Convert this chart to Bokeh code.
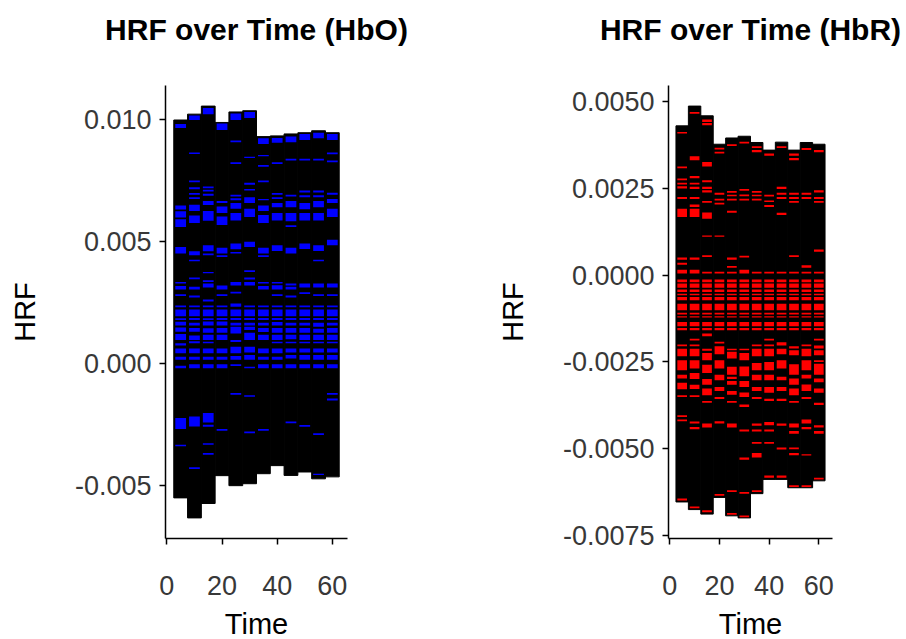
from bokeh.plotting import figure
from bokeh.layouts import row
from bokeh.models import Range1d, FixedTicker, NumeralTickFormatter, Title
from bokeh.embed import file_html
from bokeh.resources import INLINE

# ---------------- data ----------------
TIME = [5, 10, 15, 20, 25, 30, 35, 40, 45, 50, 55, 60]
X_TICKS = [0, 20, 40, 60]
UNIT = 1e-4   # all HRF values below are given in units of 1e-4

HBO_TOP = [99.6, 102.0, 105.3, 98.6, 102.9, 103.4, 92.8, 93.1, 93.9, 94.4, 95.2, 94.4]
HBO_BOTTOM = [-55.1, -63.3, -57.4, -46.0, -50.1, -49.3, -45.2, -41.9, -45.9, -44.5, -47.3, -46.5]
HBO_Y_TICKS = [-0.005, 0.0, 0.005, 0.010]

# visible (coloured) stacked segments per time bin: (upper, lower)
HBO_BANDS = [
    [(98.0, 96.3), (64.6, 63.0), (62.2, 59.7), (59.0, 55.8), (47.6, 44.9), (33.3, 32.7), (31.6, 30.2),
     (28.3, 27.6), (23.7, 22.9), (22.0, 19.3), (18.4, 17.7), (17.0, 15.5), (14.7, 12.9), (12.0, 9.5),
     (8.2, 7.3), (6.1, 4.1), (2.7, 1.4), (-1.0, -2.0), (-22.4, -26.9), (-33.3, -34.0)],
    [(101.4, 99.6), (86.3, 85.7), (74.8, 74.1), (72.1, 71.3), (69.7, 69.0), (68.0, 67.3), (64.9, 62.3),
     (60.5, 57.4), (45.9, 44.2), (42.4, 41.8), (35.1, 34.4), (31.3, 30.2), (27.8, 26.9), (23.7, 22.9),
     (22.0, 19.3), (18.5, 17.7), (16.6, 15.5), (14.4, 12.9), (11.4, 9.5), (9.0, 8.2), (6.1, 4.1),
     (2.7, 1.4), (-0.4, -2.0), (-21.8, -25.9), (-42.6, -43.3)],
    [(104.5, 102.0), (72.4, 71.7), (71.0, 70.3), (69.4, 68.6), (66.4, 64.8), (62.3, 58.4), (48.3, 45.9),
     (45.0, 44.2), (37.4, 36.9), (34.0, 33.3), (32.7, 31.0), (26.1, 25.3), (23.7, 22.9), (22.0, 19.3),
     (18.4, 17.7), (17.1, 15.5), (14.3, 12.5), (11.7, 9.5), (8.8, 8.2), (6.1, 4.1), (2.7, 1.4),
     (-0.4, -2.0), (-20.4, -24.2), (-25.2, -26.0), (-32.7, -33.3), (-36.7, -37.4)],
    [(98.2, 95.5), (66.4, 65.6), (64.2, 61.5), (60.1, 56.6), (47.3, 44.9), (44.2, 43.5), (31.8, 30.2),
     (28.3, 27.6), (23.7, 22.9), (22.0, 19.3), (18.5, 17.7), (17.1, 15.5), (14.4, 12.5), (11.7, 9.5),
     (6.1, 4.1), (2.7, 1.4), (-0.4, -2.0), (-26.9, -27.6)],
    [(102.3, 99.6), (91.2, 90.5), (82.3, 81.6), (69.0, 68.3), (67.6, 66.8), (65.6, 63.3), (61.5, 58.5),
     (49.0, 46.7), (45.6, 45.0), (33.3, 31.8), (29.3, 28.6), (24.5, 23.1), (22.0, 19.3), (18.5, 17.7),
     (16.6, 15.5), (15.0, 12.2), (9.5, 8.7), (6.8, 4.1), (3.0, 1.4), (-0.4, -1.1), (-12.2, -12.9)],
    [(102.9, 100.4), (84.6, 84.0), (73.9, 73.1), (71.4, 70.7), (68.0, 65.6), (63.3, 59.9), (49.8, 47.6),
     (38.1, 37.4), (35.1, 34.3), (33.3, 31.8), (23.7, 22.9), (22.0, 19.3), (18.5, 17.7), (16.6, 15.5),
     (15.0, 13.6), (12.5, 9.5), (6.8, 4.4), (3.4, 1.4), (-1.4, -2.0), (-13.1, -13.7), (-27.9, -28.6)],
    [(92.1, 89.8), (85.3, 84.8), (81.2, 80.5), (74.8, 74.1), (67.3, 66.7), (64.6, 62.3), (60.7, 57.4),
     (47.3, 44.9), (44.2, 43.5), (33.3, 32.7), (31.6, 30.2), (23.7, 22.9), (22.0, 19.3), (18.5, 17.7),
     (16.6, 15.5), (14.4, 12.8), (11.7, 9.5), (6.1, 4.1), (2.7, 1.4), (-0.4, -2.0), (-26.9, -27.6)],
    [(92.2, 90.3), (82.3, 81.6), (69.7, 69.0), (68.0, 67.3), (65.6, 63.9), (61.5, 58.5), (48.3, 46.0),
     (33.3, 32.7), (32.0, 30.2), (28.3, 27.6), (23.7, 22.9), (22.0, 19.3), (18.5, 17.7), (16.9, 15.5),
     (14.4, 12.5), (11.7, 9.5), (8.8, 8.2), (6.1, 4.1), (2.7, 1.4), (-0.4, -2.0)],
    [(92.9, 90.5), (83.7, 83.0), (69.0, 68.3), (66.4, 63.9), (61.5, 58.2), (56.5, 55.8), (47.3, 44.9),
     (32.7, 31.8), (31.3, 30.2), (27.8, 26.9), (23.7, 22.9), (22.0, 19.3), (18.5, 17.7), (16.6, 15.5),
     (14.4, 12.5), (11.7, 9.8), (8.8, 8.2), (6.1, 4.4), (3.4, 2.0), (-0.4, -2.0), (-23.8, -24.5)],
    [(93.9, 91.4), (83.7, 83.0), (70.7, 69.9), (68.8, 68.0), (65.6, 63.1), (61.5, 58.5), (49.0, 46.8),
     (32.7, 31.0), (29.1, 28.4), (23.7, 22.9), (22.0, 19.3), (18.5, 17.7), (16.6, 15.5), (14.4, 12.5),
     (11.7, 9.5), (8.8, 8.2), (6.1, 4.4), (3.4, 1.4), (-0.4, -2.0), (-25.3, -26.0)],
    [(94.4, 92.1), (83.7, 83.0), (70.7, 69.9), (68.8, 68.0), (66.4, 63.9), (61.5, 58.5), (48.3, 46.0),
     (42.4, 41.8), (32.7, 31.0), (28.3, 27.6), (23.7, 22.9), (22.0, 19.3), (18.5, 17.7), (16.6, 15.0),
     (14.1, 12.5), (11.7, 9.5), (8.8, 8.2), (6.1, 4.4), (3.4, 1.4), (-0.4, -2.0), (-28.6, -29.4),
     (-45.2, -45.7)],
    [(93.9, 91.4), (86.3, 85.6), (83.0, 82.3), (69.8, 69.0), (67.3, 65.6), (63.3, 59.9), (50.6, 48.3),
     (32.7, 31.0), (28.3, 27.6), (23.7, 22.9), (22.0, 19.3), (18.5, 17.7), (16.6, 15.5), (14.4, 12.5),
     (11.7, 9.5), (8.8, 8.2), (6.1, 4.4), (3.4, 1.4), (-0.4, -2.0), (-12.2, -12.9), (-14.4, -15.2)],
]

HBR_TOP = [43.1, 48.8, 46.0, 37.8, 39.6, 40.1, 38.3, 36.1, 38.4, 36.1, 38.3, 37.8]
HBR_BOTTOM = [-65.4, -67.6, -68.9, -64.1, -69.4, -70.0, -63.0, -58.9, -58.9, -61.3, -61.3, -59.3]
HBR_Y_TICKS = [-0.0075, -0.005, -0.0025, 0.0, 0.0025, 0.005]

HBR_BANDS = [
    [(41.3, 40.9), (31.4, 30.9), (27.9, 27.4), (26.7, 26.2), (25.7, 25.0), (22.6, 22.0), (19.2, 16.8),
     (5.1, 4.5), (3.6, 3.0), (1.6, 0.5), (-1.2, -2.0), (-2.4, -3.6), (-4.1, -4.8), (-5.3, -5.8),
     (-6.3, -7.2), (-8.2, -10.1), (-10.8, -11.3), (-11.8, -12.2), (-13.5, -14.7), (-15.2, -15.9),
     (-20.0, -20.5), (-21.2, -23.4), (-24.5, -27.4), (-28.7, -29.8), (-31.0, -32.9), (-34.6, -35.1),
     (-40.4, -40.9), (-41.6, -42.1), (-64.4, -65.0)],
    [(47.1, 46.6), (34.3, 33.2), (28.6, 28.0), (26.7, 26.2), (25.5, 24.9), (22.6, 22.0), (20.4, 19.7),
     (19.2, 16.8), (5.1, 4.5), (1.6, 0.5), (-1.2, -2.0), (-2.4, -3.6), (-4.1, -4.8), (-5.3, -5.8),
     (-6.3, -7.2), (-8.2, -10.1), (-10.8, -11.3), (-11.8, -12.2), (-13.5, -14.7), (-15.2, -15.9),
     (-18.3, -18.8), (-20.0, -20.5), (-21.2, -23.4), (-24.5, -26.9), (-28.2, -29.9), (-31.6, -32.8),
     (-34.6, -35.1), (-42.2, -42.8), (-43.8, -44.4), (-66.7, -67.2)],
    [(44.9, 44.2), (43.9, 43.3), (32.7, 31.4), (27.4, 26.8), (25.5, 24.9), (24.5, 23.9), (21.4, 20.9),
     (18.1, 16.3), (11.5, 11.1), (5.8, 5.3), (1.0, 0.5), (-1.2, -2.0), (-2.4, -3.6), (-4.1, -4.8),
     (-5.3, -5.8), (-6.3, -7.2), (-8.2, -10.1), (-10.8, -11.3), (-11.8, -12.2), (-13.5, -14.7),
     (-15.2, -15.9), (-16.8, -17.6), (-21.2, -21.8), (-22.4, -24.5), (-25.8, -28.2), (-29.9, -31.6),
     (-32.7, -34.6), (-36.3, -36.8), (-42.8, -43.9), (-67.8, -68.4)],
    [(36.8, 36.3), (35.6, 35.1), (23.8, 23.2), (22.1, 21.6), (20.9, 20.4), (11.5, 11.1), (1.0, 0.5),
     (-1.2, -2.0), (-2.4, -3.6), (-4.1, -4.8), (-5.3, -5.8), (-6.3, -7.2), (-8.2, -10.1), (-10.8, -11.3),
     (-11.8, -12.2), (-13.5, -14.7), (-15.2, -15.9), (-19.2, -19.7), (-20.5, -22.8), (-24.5, -26.9),
     (-28.7, -30.3), (-32.2, -33.4), (-35.1, -35.7), (-42.1, -42.8), (-63.1, -63.6)],
    [(37.8, 37.3), (24.3, 23.8), (23.2, 22.8), (22.1, 21.6), (18.6, 18.0), (5.1, 4.5), (2.7, 2.2),
     (1.0, 0.5), (-1.2, -2.0), (-2.4, -3.6), (-4.1, -4.8), (-5.3, -5.8), (-6.3, -7.2), (-8.2, -10.1),
     (-10.8, -11.3), (-11.8, -12.2), (-13.5, -14.7), (-15.2, -15.9), (-21.2, -21.6), (-22.1, -24.0),
     (-26.4, -28.7), (-29.3, -29.9), (-30.5, -31.6), (-33.4, -34.5), (-36.3, -36.8), (-42.8, -43.9),
     (-62.0, -62.5), (-68.6, -69.1)],
    [(38.5, 38.0), (24.9, 24.4), (23.3, 22.8), (22.1, 21.6), (5.6, 5.1), (1.6, 0.5), (-1.2, -2.0),
     (-2.4, -3.6), (-4.1, -4.8), (-5.3, -5.8), (-6.3, -7.2), (-8.2, -10.1), (-10.8, -11.3),
     (-11.8, -12.2), (-13.5, -14.7), (-15.2, -15.9), (-21.2, -21.6), (-22.4, -24.5), (-26.3, -29.1),
     (-30.5, -32.2), (-33.8, -35.1), (-37.3, -38.0), (-44.5, -45.1), (-52.6, -53.2), (-62.5, -63.0),
     (-69.3, -69.8)],
    [(37.2, 36.7), (36.1, 35.5), (24.3, 23.8), (23.2, 22.8), (22.1, 21.6), (1.0, 0.5), (-1.2, -2.0),
     (-2.4, -3.6), (-4.1, -4.8), (-5.3, -5.8), (-6.3, -7.2), (-8.2, -10.1), (-10.8, -11.3),
     (-11.8, -12.2), (-13.5, -14.7), (-15.2, -15.9), (-20.0, -20.5), (-21.2, -23.4), (-25.3, -27.4),
     (-28.7, -30.3), (-32.2, -33.4), (-35.1, -35.7), (-42.8, -43.4), (-44.5, -45.1), (-48.1, -48.6),
     (-51.3, -52.6), (-62.0, -62.5)],
    [(35.1, 34.5), (23.2, 22.7), (21.6, 21.1), (20.3, 19.7), (1.0, 0.5), (-1.2, -2.0), (-2.4, -3.6),
     (-4.1, -4.8), (-5.3, -5.8), (-6.3, -7.2), (-8.2, -10.1), (-10.8, -11.3), (-11.8, -12.2),
     (-13.5, -14.7), (-15.2, -15.9), (-18.3, -18.8), (-20.0, -20.5), (-21.2, -23.4), (-25.0, -27.4),
     (-28.7, -30.3), (-32.2, -33.9), (-35.6, -36.3), (-42.3, -43.3), (-44.5, -45.1), (-48.1, -48.6),
     (-57.8, -58.4)],
    [(37.2, 36.7), (25.5, 24.9), (23.8, 23.2), (22.6, 22.0), (18.0, 17.4), (1.0, 0.5), (-1.2, -2.0),
     (-2.4, -3.6), (-4.1, -4.8), (-5.3, -5.8), (-6.3, -7.2), (-8.2, -10.1), (-10.8, -11.3),
     (-11.8, -12.2), (-13.5, -14.7), (-15.2, -15.9), (-19.3, -20.3), (-21.2, -22.8), (-24.5, -26.9),
     (-29.3, -30.3), (-32.2, -33.4), (-35.6, -36.3), (-42.8, -43.4), (-49.7, -50.3), (-57.8, -58.4)],
    [(35.1, 34.5), (33.8, 33.2), (23.8, 23.2), (22.6, 22.0), (21.4, 20.9), (5.8, 5.3), (1.0, 0.5),
     (-1.2, -2.0), (-2.4, -3.6), (-4.1, -4.8), (-5.3, -5.8), (-6.3, -7.2), (-8.2, -10.1), (-10.8, -11.3),
     (-11.8, -12.2), (-13.5, -14.7), (-15.2, -15.9), (-20.5, -21.1), (-21.6, -23.1), (-25.7, -28.7),
     (-29.8, -31.6), (-32.7, -34.6), (-36.3, -36.8), (-42.8, -43.9), (-44.9, -45.7), (-49.7, -50.2),
     (-51.3, -51.9), (-60.6, -61.1)],
    [(36.7, 36.1), (23.8, 23.2), (22.6, 22.0), (2.9, 2.2), (1.0, 0.5), (-1.2, -2.0), (-2.4, -3.6),
     (-4.1, -4.8), (-5.3, -5.8), (-6.3, -7.2), (-8.2, -10.1), (-10.8, -11.3), (-11.8, -12.2),
     (-13.5, -14.7), (-15.2, -15.9), (-20.0, -20.5), (-21.2, -23.4), (-24.5, -27.4), (-28.7, -29.8),
     (-31.5, -33.4), (-35.1, -35.7), (-41.6, -42.8), (-43.8, -44.4), (-51.6, -52.0), (-60.6, -61.1)],
    [(36.1, 35.5), (24.5, 23.9), (22.6, 22.0), (21.4, 20.9), (7.4, 6.8), (1.0, 0.5), (-1.2, -2.0),
     (-2.4, -3.6), (-4.1, -4.8), (-5.3, -5.8), (-6.3, -7.2), (-8.2, -10.1), (-10.8, -11.3),
     (-11.8, -12.2), (-13.5, -14.7), (-15.2, -15.9), (-18.3, -18.8), (-20.3, -21.1), (-21.6, -23.1),
     (-24.5, -25.0), (-25.5, -28.7), (-29.8, -30.9), (-32.7, -33.9), (-36.8, -37.4), (-43.3, -43.9),
     (-44.9, -45.7), (-58.4, -58.9)],
]

# ---------------- styling ----------------
FONT = "Liberation Sans"
BIN_WIDTH = 5
BAND_WIDTH = 3.9
FRAME_H = 453


def make_panel(title, top, bottom, bands, color, yticks, yfmt, border_left, frame_w, border_right):
    top_v = [t * UNIT for t in top]
    bot_v = [b * UNIT for b in bottom]
    lo, hi = min(bot_v), max(top_v)
    ypad = 0.05 * (hi - lo)
    xlo = min(TIME) - BIN_WIDTH / 2
    xhi = max(TIME) + BIN_WIDTH / 2
    xpad = 0.05 * (xhi - xlo)

    p = figure(frame_width=frame_w, frame_height=FRAME_H,
               min_border_left=border_left, min_border_right=border_right,
               min_border_top=85, min_border_bottom=101,
               x_range=Range1d(xlo - xpad, xhi + xpad),
               y_range=Range1d(lo - ypad, hi + ypad),
               output_backend="svg", toolbar_location=None, title=title)

    # empty spacer between title and plot area
    p.add_layout(Title(text=" ", text_font=FONT, text_font_size="30px", standoff=0), "above")

    p.vbar(x=TIME, top=top_v, bottom=bot_v, width=BIN_WIDTH,
           fill_color="black", line_color="black", line_width=1)

    bx, bt, bb = [], [], []
    for t, segs in zip(TIME, bands):
        for u, l in segs:
            bx.append(t)
            bt.append(u * UNIT)
            bb.append(l * UNIT)
    p.vbar(x=bx, top=bt, bottom=bb, width=BAND_WIDTH, fill_color=color, line_color=None)

    p.title.text_font = FONT
    p.title.text_font_size = "30px"
    p.title.text_font_style = "bold"
    p.title.text_color = "black"
    p.title.align = "center"
    p.title.standoff = 10

    p.xgrid.visible = False
    p.ygrid.visible = False
    p.outline_line_color = None
    p.background_fill_color = "white"
    p.border_fill_color = "white"

    p.xaxis.ticker = FixedTicker(ticks=X_TICKS)
    p.yaxis.ticker = FixedTicker(ticks=yticks)
    p.yaxis.formatter = NumeralTickFormatter(format=yfmt)
    p.xaxis.axis_label = "Time"
    p.yaxis.axis_label = "HRF"
    for ax in (p.xaxis, p.yaxis):
        ax.axis_line_color = "black"
        ax.axis_line_width = 1.5
        ax.major_tick_line_color = "black"
        ax.major_tick_line_width = 1.5
        ax.major_tick_out = 6
        ax.major_tick_in = 0
        ax.minor_tick_line_color = None
        ax.major_label_text_font = FONT
        ax.major_label_text_font_size = "27px"
        ax.major_label_text_color = "#383838"
        ax.axis_label_text_font = FONT
        ax.axis_label_text_font_size = "29px"
        ax.axis_label_text_font_style = "normal"
        ax.axis_label_text_color = "black"
    p.xaxis.major_label_standoff = 31
    p.xaxis.axis_label_standoff = 10
    p.yaxis.major_label_standoff = 8
    p.yaxis.axis_label_standoff = 31
    return p


p1 = make_panel("HRF over Time (HbO)", HBO_TOP, HBO_BOTTOM, HBO_BANDS, "#0000ff",
                HBO_Y_TICKS, "0.000", 165, 182, 106)
p2 = make_panel("HRF over Time (HbR)", HBR_TOP, HBR_BOTTOM, HBR_BANDS, "#ff0000",
                HBR_Y_TICKS, "0.0000", 215, 164, 74)

layout = row(p1, p2)
open("out.html", "w").write(file_html(layout, INLINE))
